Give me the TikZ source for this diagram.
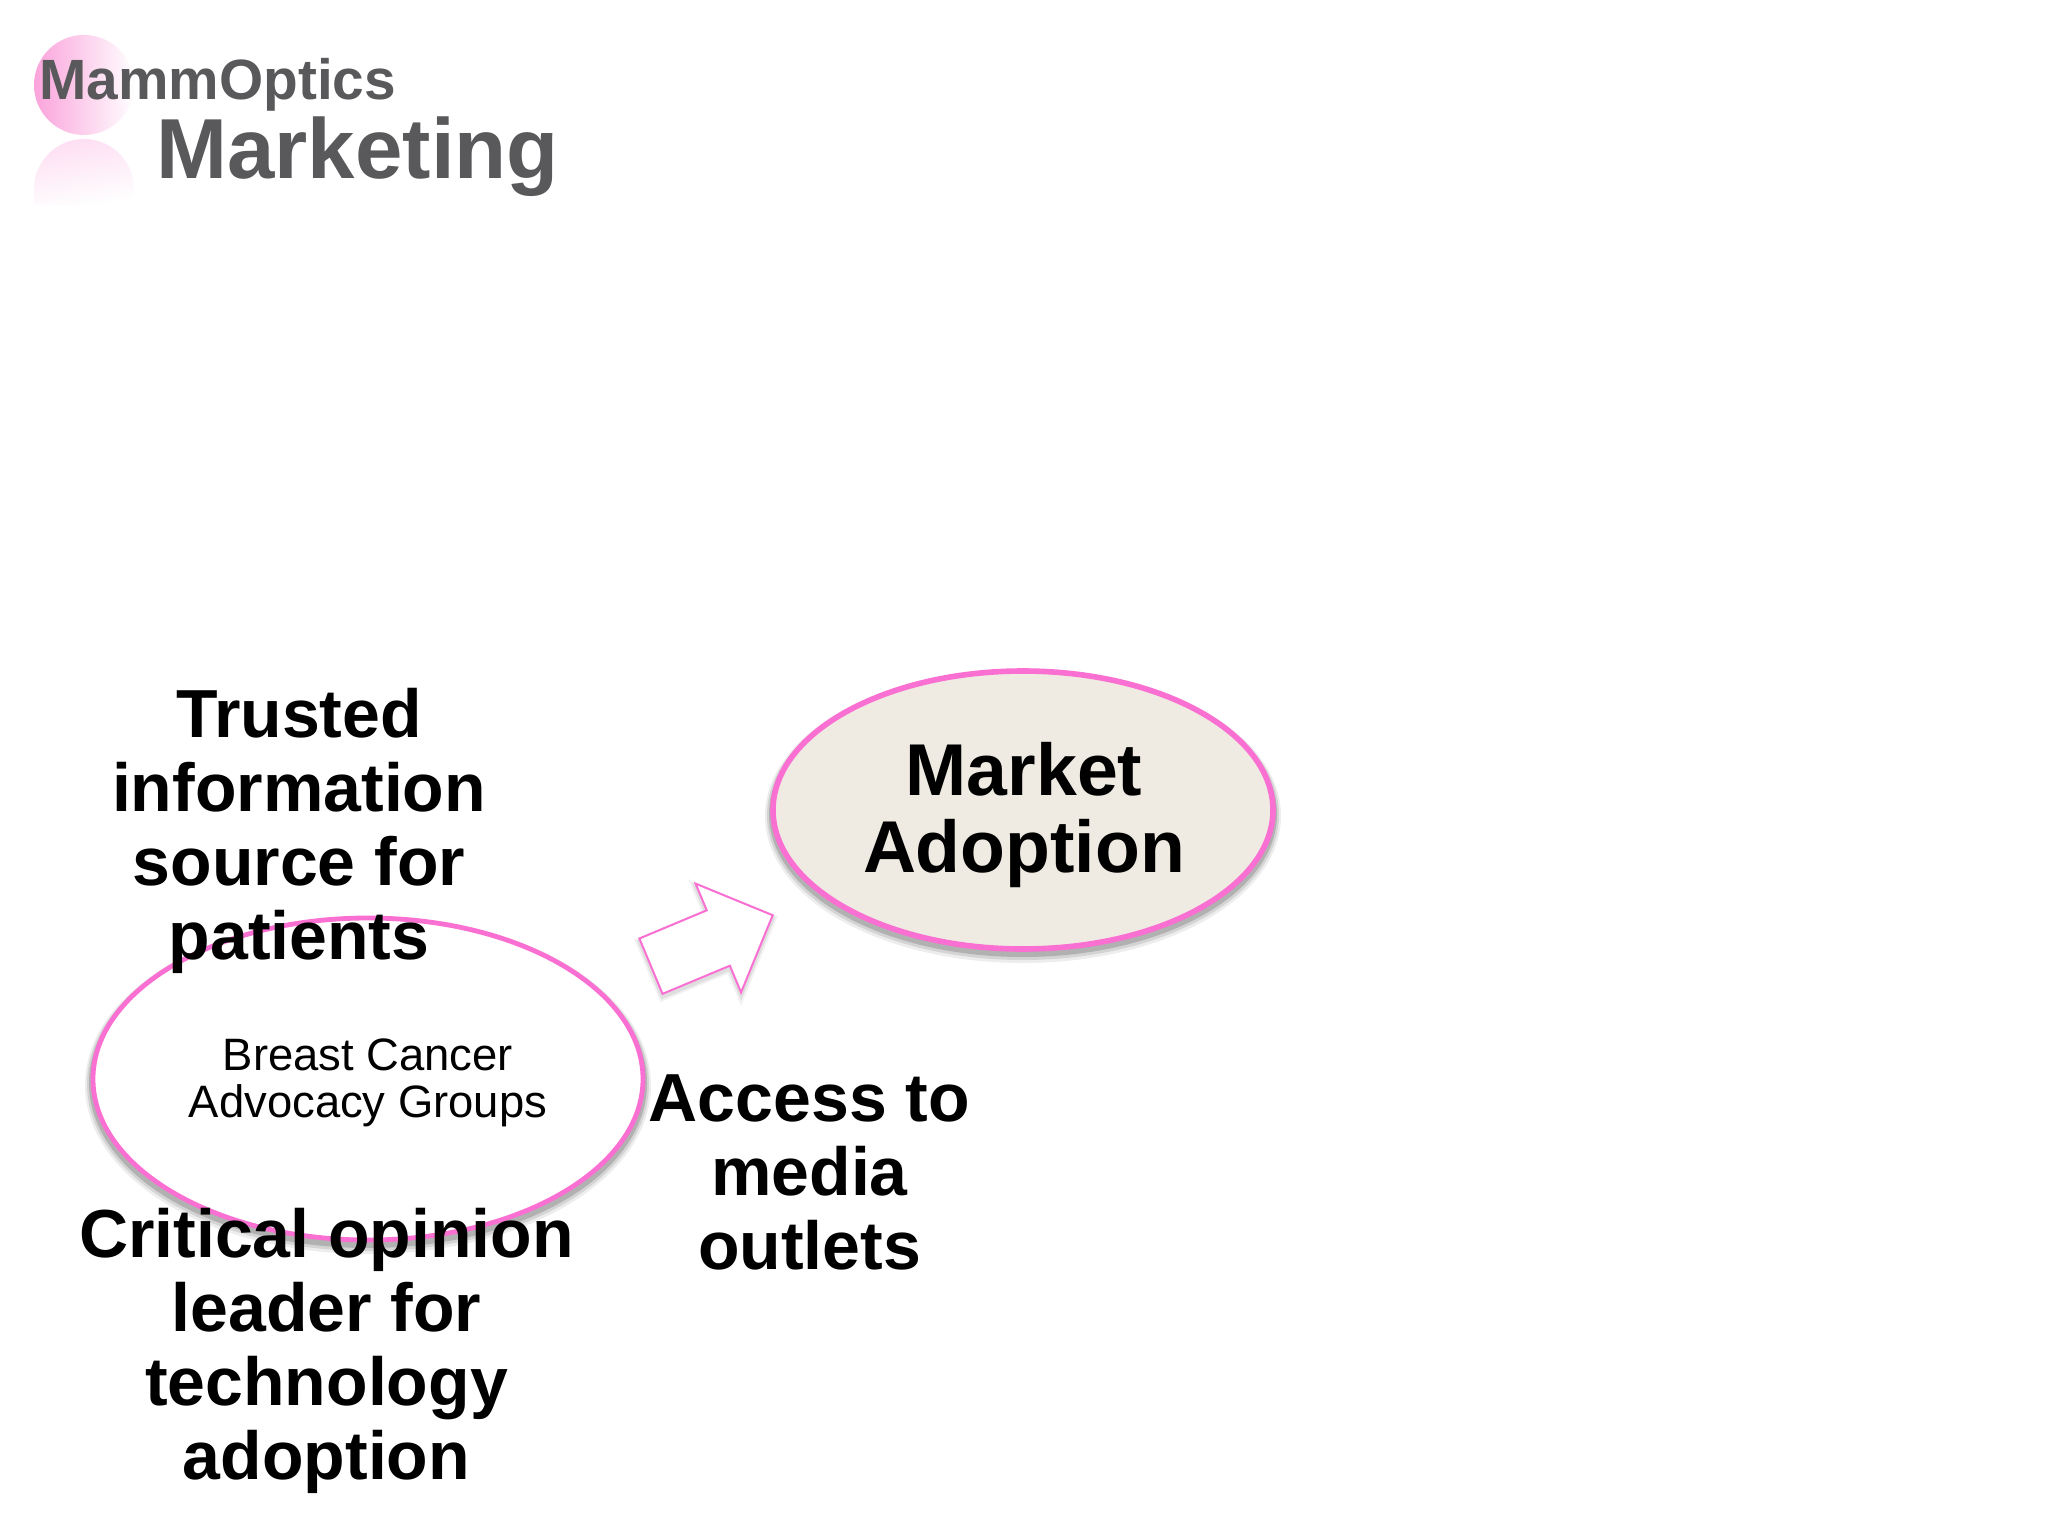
\documentclass[tikz,border=0pt]{standalone}
\usepackage{fontspec}
\setmainfont{Liberation Sans}
\usetikzlibrary{arrows,positioning,shapes.geometric,shapes.arrows,fadings}
\definecolor{rimpink}{HTML}{FA70D2}
\definecolor{logopink}{HTML}{FBA4DC}
\definecolor{logogrey}{HTML}{59585B}
\definecolor{adoptfill}{HTML}{EFEAE2}
\tikzset{
  softshadow/.style={
    preaction={draw=black, draw opacity=0.07, line width=8pt, transform canvas={yshift=-3pt}},
    preaction={draw=black, draw opacity=0.10, line width=6pt, transform canvas={yshift=-2.5pt}},
    preaction={draw=black, draw opacity=0.16, line width=4pt, transform canvas={yshift=-2pt}}},
  arrowshadow/.style={
    preaction={draw=black, draw opacity=0.05, line width=4pt, transform canvas={yshift=-1.5pt}},
    preaction={draw=black, draw opacity=0.08, line width=2pt, transform canvas={yshift=-1.5pt}}},
  bubble/.style={ellipse, draw=rimpink, inner sep=0pt, softshadow},
  point/.style={align=center, text=black, inner sep=0pt, font=\fontsize{34}{37}\selectfont\bfseries},
  logotext/.style={anchor=base west, inner sep=0pt, text=logogrey}
}
\begin{document}
\begin{tikzpicture}[x=0.5pt, y=-0.5pt]
  % Page
  \fill[white] (0,0) rectangle (2048,1536);
  \useasboundingbox (0,0) rectangle (2048,1536);
  % Logo ball and its reflection
  \fill[logopink, path fading=east] (84,85) circle (50);
  \fill[logopink!35!white, path fading=south, fading angle=15]
    (34,205) -- (34,189) arc[start angle=180, end angle=360, radius=50] -- (134,205) -- cycle;
  % Logo text
  \node(company)[logotext, font=\fontsize{28.4}{30}\selectfont\bfseries] at (39,99) {MammOptics};
  \node(section)[logotext, font=\fontsize{42.6}{44}\selectfont\bfseries] at (156,178) {Marketing};
  % Ellipses
  \node(adoption)[bubble, fill=adoptfill, line width=2.8pt, minimum width=250pt, minimum height=139pt] at (1023,810) {};
  \node(advocacy)[bubble, fill=white, line width=2.4pt, minimum width=275pt, minimum height=161pt] at (368,1079) {};
  % Block arrow
  \node(push)[single arrow, draw=rimpink, fill=white, line width=1pt, arrowshadow, inner xsep=0pt, inner ysep=14.5pt,
              minimum height=66pt, minimum width=58pt, single arrow head extend=14.5pt,
              rotate=22.7] at (698,946.5) {};
  % Labels
  \node(adoptname)[align=center, inner sep=0pt, font=\fontsize{36.7}{38.5}\selectfont\bfseries] at (1024,815) {Market\\Adoption};
  \node(advocacyname)[align=center, inner sep=0pt, font=\fontsize{22.7}{23.5}\selectfont] at (368,1083) {Breast Cancer\\Advocacy Groups};
  \node(trusted)[point] at (299,831) {Trusted\\information\\source for\\patients};
  \node(critical)[point] at (326.5,1351) {Critical opinion\\leader for\\technology\\adoption};
  \node(media)[point] at (809.5,1172) {Access to\\media\\outlets};
\end{tikzpicture}
\end{document}
